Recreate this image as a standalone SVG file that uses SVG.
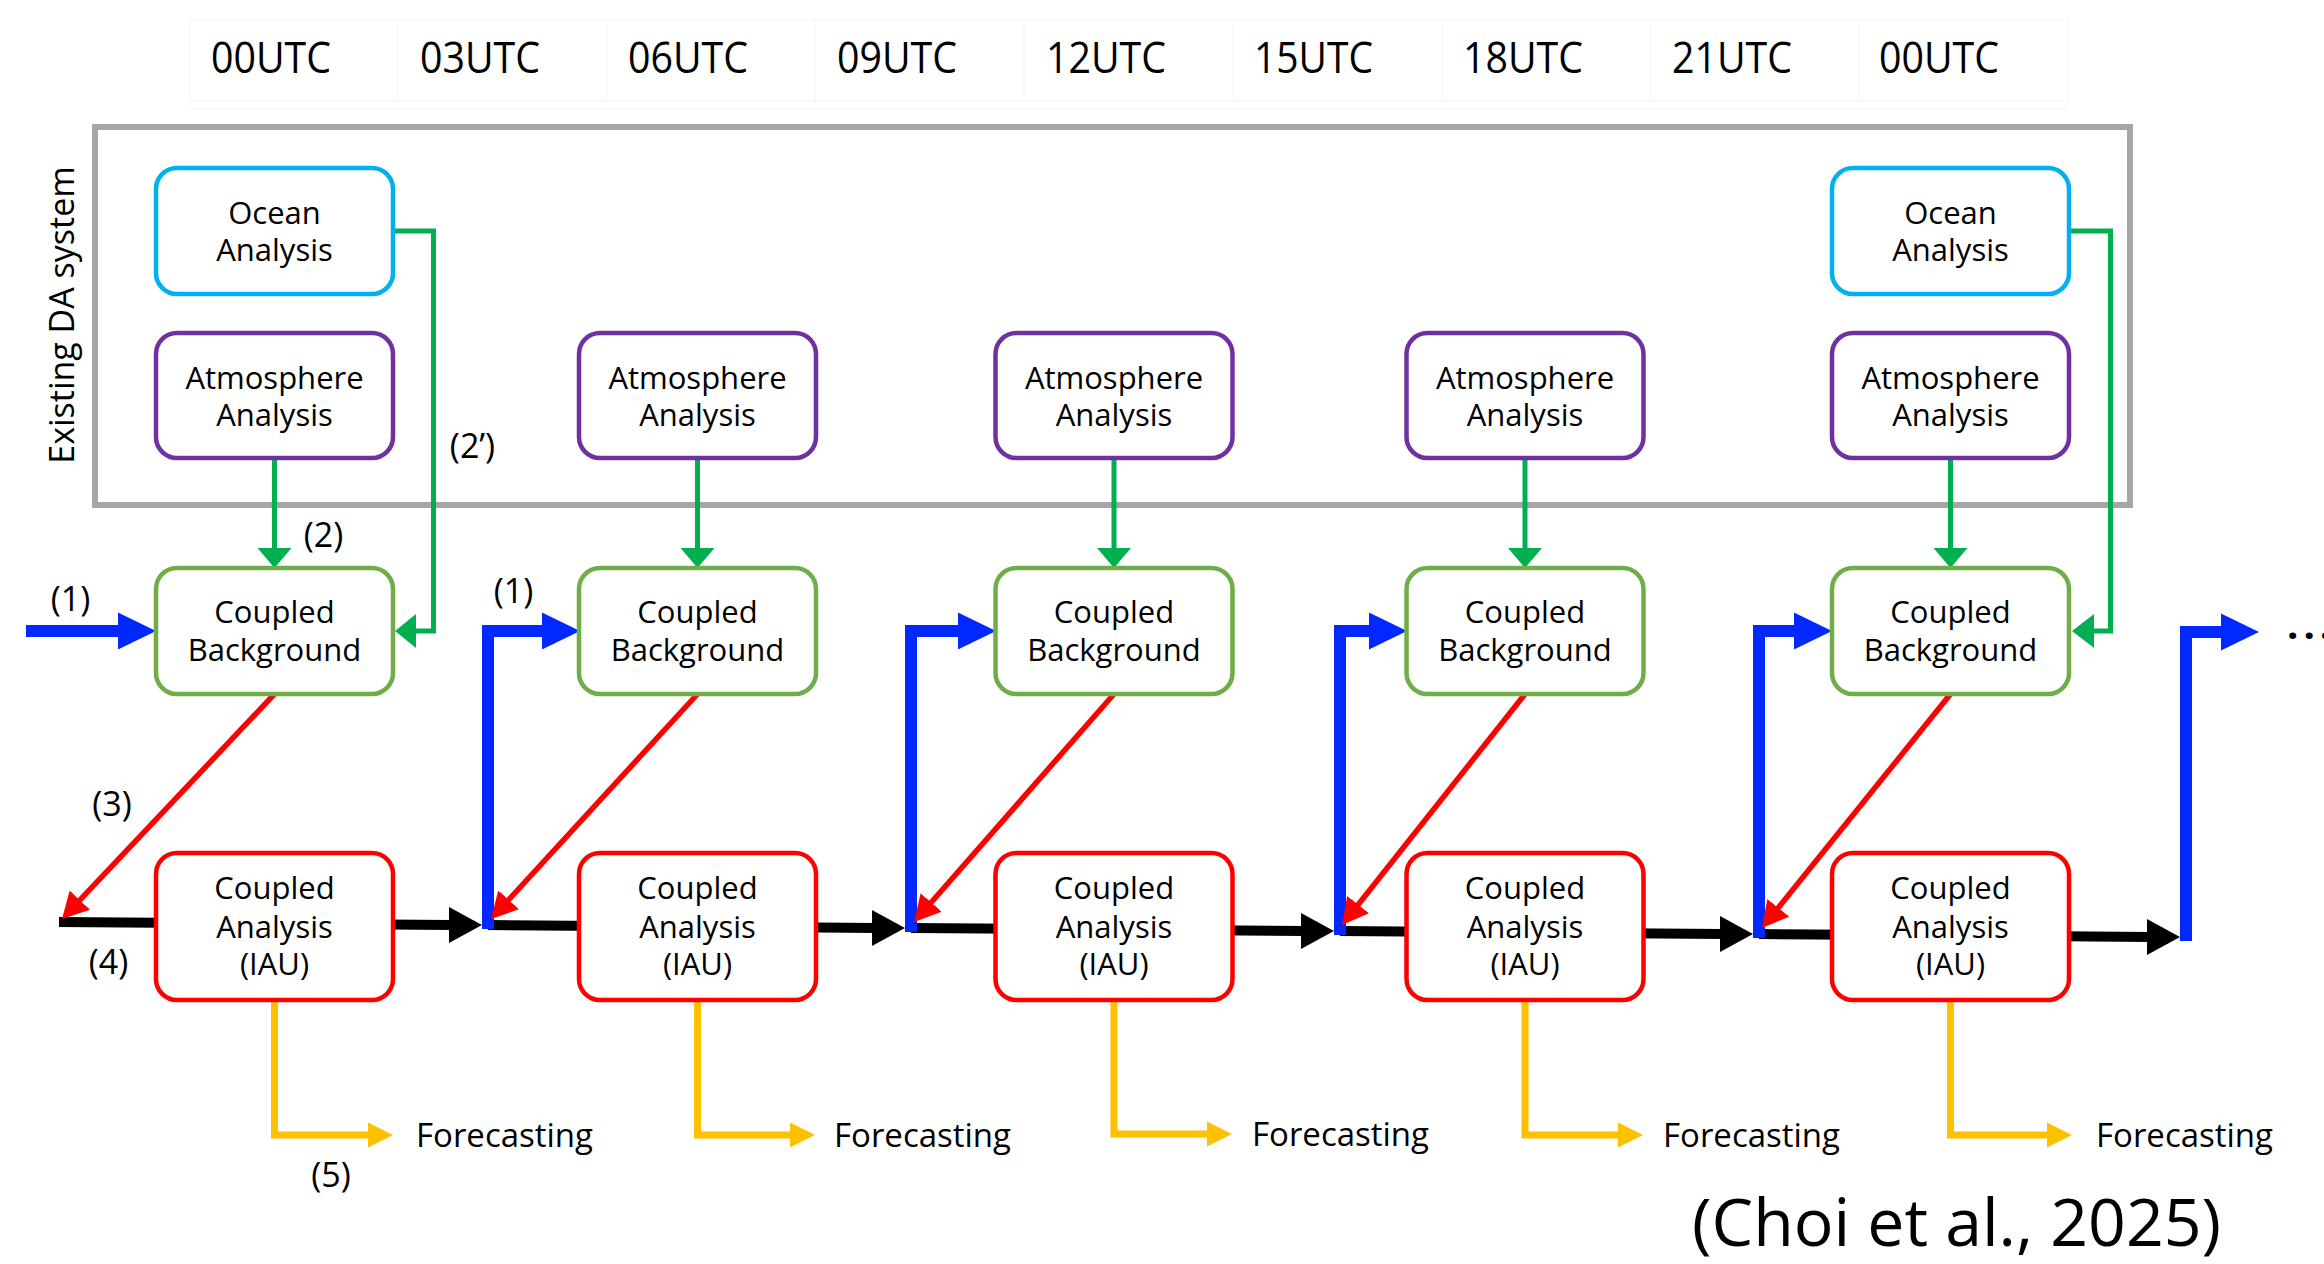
<svg xmlns="http://www.w3.org/2000/svg" width="2324" height="1264" viewBox="0 0 2324 1264">
<defs>
<style>
text{font-family:"Open Sans","Noto Sans","Liberation Sans",sans-serif;fill:#000}
.t{font-size:31px;text-anchor:middle}
.lbl{font-size:34px;text-anchor:middle}
.utc{font-size:43px}
.fc{font-size:33px}
.box{fill:#fff;stroke-width:4.5}
.ocean{stroke:#00b0f0}
.atm{stroke:#7030a0}
.cb{stroke:#70ad47}
.ca{stroke:#ff0000}
.grid{fill:none;stroke:#f5f5f5;stroke-width:1.2}
.g{fill:none;stroke:#00b050;stroke-width:5;stroke-linejoin:miter}
.gh{fill:#00b050}
.b{fill:none;stroke:#0028ff;stroke-width:12;stroke-linejoin:miter}
.bh{fill:#0028ff}
.k{fill:none;stroke:#000;stroke-width:10}
.kh{fill:#000}
.r{fill:none;stroke:#ff0000;stroke-width:5.5}
.y{fill:none;stroke:#ffc000;stroke-width:7;stroke-linejoin:miter}
.yh{fill:#ffc000}
</style>
<marker id="redHead" viewBox="0 0 26 28" refX="18" refY="14" markerWidth="26" markerHeight="28" markerUnits="userSpaceOnUse" orient="auto">
<path d="M0,0 L26,14 L0,28 z" fill="#ff0000"/>
</marker>
</defs>
<rect width="2324" height="1264" fill="#fff"/>

<g id="time-axis">
<rect class="grid" x="189.5" y="20" width="1878.5" height="81"/>
<path class="grid" d="M398 20V101M607 20V101M815.5 20V101M1024 20V101M1233 20V101M1442 20V101M1650 20V101M1859 20V101M189.5 109H2068"/>
<text class="utc" x="211" y="73" textLength="120" lengthAdjust="spacingAndGlyphs">00UTC</text>
<text class="utc" x="420" y="73" textLength="120" lengthAdjust="spacingAndGlyphs">03UTC</text>
<text class="utc" x="628" y="73" textLength="120" lengthAdjust="spacingAndGlyphs">06UTC</text>
<text class="utc" x="837" y="73" textLength="120" lengthAdjust="spacingAndGlyphs">09UTC</text>
<text class="utc" x="1046" y="73" textLength="120" lengthAdjust="spacingAndGlyphs">12UTC</text>
<text class="utc" x="1254" y="73" textLength="119" lengthAdjust="spacingAndGlyphs">15UTC</text>
<text class="utc" x="1463" y="73" textLength="120" lengthAdjust="spacingAndGlyphs">18UTC</text>
<text class="utc" x="1672" y="73" textLength="120" lengthAdjust="spacingAndGlyphs">21UTC</text>
<text class="utc" x="1879" y="73" textLength="120" lengthAdjust="spacingAndGlyphs">00UTC</text>
</g>

<g id="existing-da-system">
<rect x="95" y="127" width="2035" height="378" fill="none" stroke="#a6a6a6" stroke-width="6"/>
<text transform="translate(74,315) rotate(-90)" style="font-size:34px;text-anchor:middle">Existing DA system</text>
</g>

<g id="connectors">
<!-- green: atmosphere -> background -->
<path class="g" d="M274.5 458V550"/><polygon class="gh" points="257.5,548 274.5,568 291.5,548"/>
<path class="g" d="M697.5 458V550"/><polygon class="gh" points="680.5,548 697.5,568 714.5,548"/>
<path class="g" d="M1114 458V550"/><polygon class="gh" points="1097,548 1114,568 1131,548"/>
<path class="g" d="M1525 458V550"/><polygon class="gh" points="1508,548 1525,568 1542,548"/>
<path class="g" d="M1950.5 458V550"/><polygon class="gh" points="1933.5,548 1950.5,568 1967.5,548"/>
<!-- green: ocean -> background (2') -->
<path class="g" d="M393 231H433.5V631H414"/><polygon class="gh" points="416,614 395,631 416,648"/>
<path class="g" d="M2069 231H2110.5V631H2092"/><polygon class="gh" points="2094,614 2072,631 2094,648"/>
<!-- black timeline -->
<path class="k" d="M59 922L452 925"/><polygon class="kh" points="449,907 482,925 449,943"/>
<path class="k" d="M488 925L875 928"/><polygon class="kh" points="872,910 905,928 872,946"/>
<path class="k" d="M911 928L1304 931"/><polygon class="kh" points="1301,913 1334,931 1301,949"/>
<path class="k" d="M1340 931L1723 934"/><polygon class="kh" points="1720,916 1753,934 1720,952"/>
<path class="k" d="M1759 934L2150 937"/><polygon class="kh" points="2147,919 2180,937 2147,955"/>
<!-- blue (1) -->
<path class="b" d="M26 631H120"/><polygon class="bh" points="118,612.5 156,631 118,649.5"/>
<path class="b" d="M488 929V631H544"/><polygon class="bh" points="542,612.5 580,631 542,649.5"/>
<path class="b" d="M911 932V631H960"/><polygon class="bh" points="958,612.5 996,631 958,649.5"/>
<path class="b" d="M1340 935V631H1371"/><polygon class="bh" points="1369,612.5 1407,631 1369,649.5"/>
<path class="b" d="M1759 938V631H1796"/><polygon class="bh" points="1794,612.5 1832,631 1794,649.5"/>
<path class="b" d="M2186 941V632H2223"/><polygon class="bh" points="2221,613.5 2259,632 2221,650.5"/>
<!-- red (3) -->
<path class="r" d="M274.5 694L67.5 913.2" marker-end="url(#redHead)"/>
<path class="r" d="M697.5 694L496.4 913.1" marker-end="url(#redHead)"/>
<path class="r" d="M1114 694L919.3 916" marker-end="url(#redHead)"/>
<path class="r" d="M1525 694L1347 918.7" marker-end="url(#redHead)"/>
<path class="r" d="M1950.5 694L1767 921.8" marker-end="url(#redHead)"/>
<!-- yellow (5) -->
<path class="y" d="M274.5 1000V1135H371"/><polygon class="yh" points="368,1122.5 393,1135 368,1147.5"/>
<path class="y" d="M697.5 1000V1135H793"/><polygon class="yh" points="790,1122.5 815,1135 790,1147.5"/>
<path class="y" d="M1114 1000V1134H1210"/><polygon class="yh" points="1207,1121.5 1232,1134 1207,1146.5"/>
<path class="y" d="M1525 1000V1135H1621"/><polygon class="yh" points="1618,1122.5 1643,1135 1618,1147.5"/>
<path class="y" d="M1950.5 1000V1135H2050"/><polygon class="yh" points="2047,1122.5 2072,1135 2047,1147.5"/>
</g>

<g id="nodes">
<g id="ocean-1"><rect class="box ocean" x="156" y="168" width="237" height="126" rx="21"/><text class="t" x="274.5" y="224">Ocean</text><text class="t" x="274.5" y="261">Analysis</text></g>
<g id="ocean-5"><rect class="box ocean" x="1832" y="168" width="237" height="126" rx="21"/><text class="t" x="1950.5" y="224">Ocean</text><text class="t" x="1950.5" y="261">Analysis</text></g>

<g id="atm-1"><rect class="box atm" x="156" y="333" width="237" height="125" rx="21"/><text class="t" x="274.5" y="389">Atmosphere</text><text class="t" x="274.5" y="426">Analysis</text></g>
<g id="atm-2"><rect class="box atm" x="579" y="333" width="237" height="125" rx="21"/><text class="t" x="697.5" y="389">Atmosphere</text><text class="t" x="697.5" y="426">Analysis</text></g>
<g id="atm-3"><rect class="box atm" x="995.5" y="333" width="237" height="125" rx="21"/><text class="t" x="1114" y="389">Atmosphere</text><text class="t" x="1114" y="426">Analysis</text></g>
<g id="atm-4"><rect class="box atm" x="1406.5" y="333" width="237" height="125" rx="21"/><text class="t" x="1525" y="389">Atmosphere</text><text class="t" x="1525" y="426">Analysis</text></g>
<g id="atm-5"><rect class="box atm" x="1832" y="333" width="237" height="125" rx="21"/><text class="t" x="1950.5" y="389">Atmosphere</text><text class="t" x="1950.5" y="426">Analysis</text></g>

<g id="cb-1"><rect class="box cb" x="156" y="568" width="237" height="126" rx="21"/><text class="t" x="274.5" y="623">Coupled</text><text class="t" x="274.5" y="661">Background</text></g>
<g id="cb-2"><rect class="box cb" x="579" y="568" width="237" height="126" rx="21"/><text class="t" x="697.5" y="623">Coupled</text><text class="t" x="697.5" y="661">Background</text></g>
<g id="cb-3"><rect class="box cb" x="995.5" y="568" width="237" height="126" rx="21"/><text class="t" x="1114" y="623">Coupled</text><text class="t" x="1114" y="661">Background</text></g>
<g id="cb-4"><rect class="box cb" x="1406.5" y="568" width="237" height="126" rx="21"/><text class="t" x="1525" y="623">Coupled</text><text class="t" x="1525" y="661">Background</text></g>
<g id="cb-5"><rect class="box cb" x="1832" y="568" width="237" height="126" rx="21"/><text class="t" x="1950.5" y="623">Coupled</text><text class="t" x="1950.5" y="661">Background</text></g>

<g id="ca-1"><rect class="box ca" x="156" y="853" width="237" height="147" rx="21"/><text class="t" x="274.5" y="899">Coupled</text><text class="t" x="274.5" y="937.5">Analysis</text><text class="t" x="274.5" y="975">(IAU)</text></g>
<g id="ca-2"><rect class="box ca" x="579" y="853" width="237" height="147" rx="21"/><text class="t" x="697.5" y="899">Coupled</text><text class="t" x="697.5" y="937.5">Analysis</text><text class="t" x="697.5" y="975">(IAU)</text></g>
<g id="ca-3"><rect class="box ca" x="995.5" y="853" width="237" height="147" rx="21"/><text class="t" x="1114" y="899">Coupled</text><text class="t" x="1114" y="937.5">Analysis</text><text class="t" x="1114" y="975">(IAU)</text></g>
<g id="ca-4"><rect class="box ca" x="1406.5" y="853" width="237" height="147" rx="21"/><text class="t" x="1525" y="899">Coupled</text><text class="t" x="1525" y="937.5">Analysis</text><text class="t" x="1525" y="975">(IAU)</text></g>
<g id="ca-5"><rect class="box ca" x="1832" y="853" width="237" height="147" rx="21"/><text class="t" x="1950.5" y="899">Coupled</text><text class="t" x="1950.5" y="937.5">Analysis</text><text class="t" x="1950.5" y="975">(IAU)</text></g>

<g id="forecast-1"><text class="fc" x="416" y="1147">Forecasting</text></g>
<g id="forecast-2"><text class="fc" x="834" y="1147">Forecasting</text></g>
<g id="forecast-3"><text class="fc" x="1252" y="1146">Forecasting</text></g>
<g id="forecast-4"><text class="fc" x="1663" y="1147">Forecasting</text></g>
<g id="forecast-5"><text class="fc" x="2096" y="1147">Forecasting</text></g>
</g>

<g id="labels">
<text class="lbl" x="70.5" y="611">(1)</text>
<text class="lbl" x="513.5" y="603">(1)</text>
<text class="lbl" x="472.5" y="458">(2’)</text>
<text class="lbl" x="323.5" y="547">(2)</text>
<text class="lbl" x="112" y="816">(3)</text>
<text class="lbl" x="108.5" y="974">(4)</text>
<text class="lbl" x="331" y="1187">(5)</text>
<text x="2287" y="639" style="font-size:40px;font-weight:bold;letter-spacing:5px">...</text>
<text x="1956.5" y="1246" style="font-size:66px;text-anchor:middle" textLength="529" lengthAdjust="spacingAndGlyphs">(Choi et al., 2025)</text>
</g>
</svg>
